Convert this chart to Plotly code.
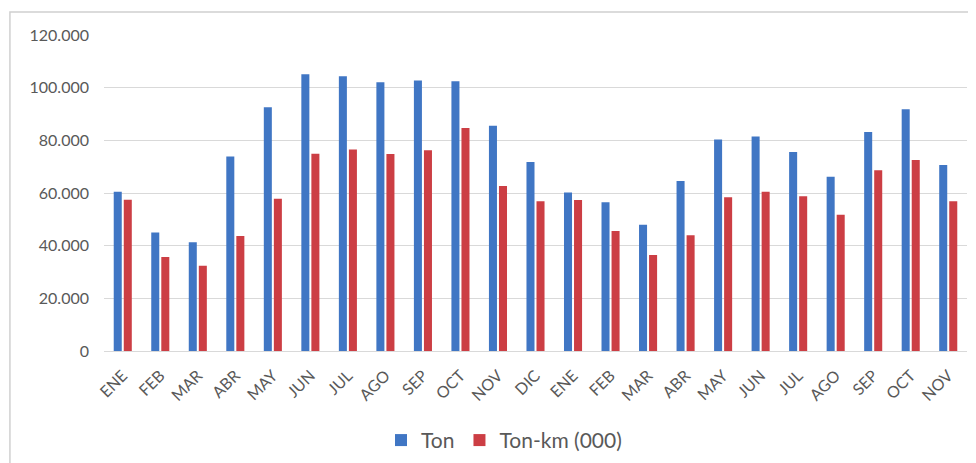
import plotly.graph_objects as go

months = ["ENE", "FEB", "MAR", "ABR", "MAY", "JUN", "JUL", "AGO", "SEP", "OCT", "NOV", "DIC",
          "ENE", "FEB", "MAR", "ABR", "MAY", "JUN", "JUL", "AGO", "SEP", "OCT", "NOV"]
ton = [60500, 45000, 41300, 73900, 92600, 105100, 104300, 102100, 102700, 102400, 85500, 71800,
       60200, 56500, 47900, 64600, 80300, 81500, 75600, 66200, 83200, 91800, 70600]
ton_km = [57400, 35700, 32400, 43700, 57800, 74900, 76500, 74800, 76200, 84700, 62700, 56900,
          57300, 45600, 36500, 44000, 58400, 60500, 58800, 51700, 68600, 72500, 56900]
y_ticks = [0, 20000, 40000, 60000, 80000, 100000, 120000]

idx = list(range(len(months)))

fig = go.Figure()
fig.add_trace(go.Bar(x=idx, y=ton, name="Ton", marker=dict(color="#4076C4", line=dict(width=0))))
fig.add_trace(go.Bar(x=idx, y=ton_km, name="Ton-km (000)", marker=dict(color="#CC3E44", line=dict(width=0))))

fig.update_layout(
    width=968, height=455,
    margin=dict(l=96, r=9, t=27, b=112, autoexpand=False),
    paper_bgcolor="white", plot_bgcolor="white",
    separators=",.",
    barmode="group", bargap=0.465, bargroupgap=0.2,
    font=dict(family="Lato", color="#595959"),
    legend=dict(orientation="h", x=0.4635, xanchor="center", y=-0.283, yanchor="middle",
                font=dict(size=21, color="#595959"), itemsizing="constant", traceorder="normal"),
    showlegend=True,
)
fig.update_xaxes(
    tickmode="array", tickvals=idx, ticktext=months, tickangle=-45,
    tickfont=dict(size=16, color="#595959"), range=[-0.5, len(months) - 0.5],
    showgrid=False, showline=True, linecolor="#d9d9d9", ticks="", zeroline=False,
    ticklabelstandoff=8, automargin=False,
)
fig.update_yaxes(
    range=[0, 120000], tickmode="array", tickvals=y_ticks, tickformat=",d",
    tickfont=dict(size=16, color="#595959"), showgrid=True, gridcolor="#d9d9d9",
    gridwidth=1, zeroline=False, showline=False, ticklabelstandoff=14, automargin=False,
)
fig.add_shape(type="rect", xref="paper", yref="paper", x0=-0.109, y0=-0.6, x1=1.05, y1=1.073,
              line=dict(color="#d0d0d0", width=1.5), fillcolor="rgba(0,0,0,0)", layer="below")

fig.write_html("out.html")
